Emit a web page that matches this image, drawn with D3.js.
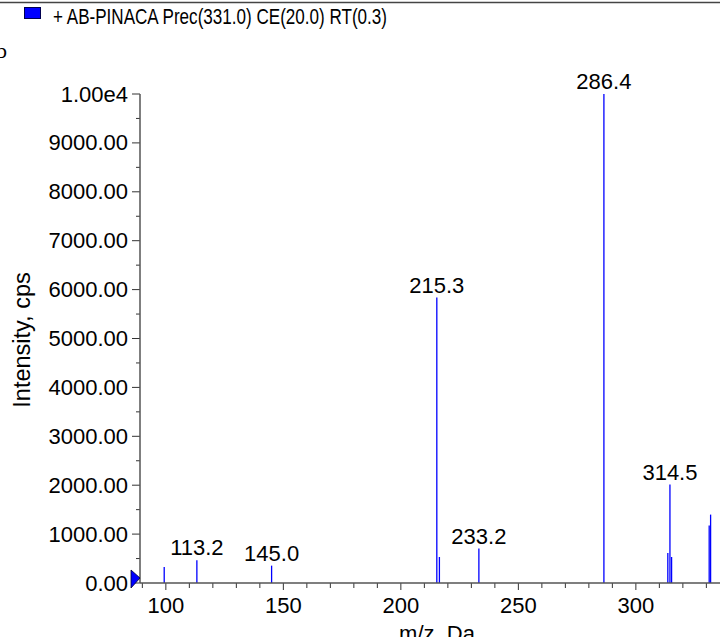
<!DOCTYPE html>
<html><head><meta charset="utf-8">
<script src="https://cdn.jsdelivr.net/npm/d3@7"></script>
<style>
html,body{margin:0;padding:0;background:#fff;}
svg{display:block;font-family:"Liberation Sans",Arial,sans-serif;}
</style></head><body>
<svg id="c" width="720" height="637"></svg>
<script>
// Data (m/z, intensity)
const mz        = [99.3, 113.2, 145.0, 215.3, 216.4, 233.2, 286.4, 313.6, 314.5, 315.2, 331.2, 331.8];
const intensity = [327,  464,   355,   5836,  532,   703,   10000, 613,   2012,  532,   1174,  1399];
const labeled   = ["", "113.2", "145.0", "215.3", "", "233.2", "286.4", "", "314.5", "", "", ""];
const yTicks = [0,1000,2000,3000,4000,5000,6000,7000,8000,9000,10000];
const yTickLabels = ["0.00","1000.00","2000.00","3000.00","4000.00","5000.00","6000.00","7000.00","8000.00","9000.00","1.00e4"];
const xTicks = [100,150,200,250,300];
const legendText = "+ AB-PINACA Prec(331.0) CE(20.0) RT(0.3)";

const svg = d3.select("#c");
const x = d3.scaleLinear().domain([89, 335.8]).range([140, 720]);
const y = d3.scaleLinear().domain([0, 10000]).range([583, 94]);
const FS = 22;

// top border
svg.append("line").attr("x1",0).attr("x2",720).attr("y1",2.5).attr("y2",2.5)
  .attr("stroke","#444").attr("stroke-width",1.5);
// legend
svg.append("rect").attr("x",24.5).attr("y",7.5).attr("width",16).attr("height",11)
  .attr("fill","#0000ff").attr("stroke","#000050").attr("stroke-width",1);
svg.append("text").attr("x",53).attr("y",23.5).attr("font-size",FS).attr("fill","#000")
  .attr("textLength",334).attr("lengthAdjust","spacingAndGlyphs").text(legendText);
// partial panel letter
svg.append("text").attr("x",-4).attr("y",58).attr("font-family","Liberation Serif").attr("font-size",22).attr("fill","#000").text("b");

// x minor ticks
const xMinor = d3.range(90, 336, 10);
svg.append("g").selectAll("line").data(xMinor).join("line")
  .attr("x1",d=>x(d)).attr("x2",d=>x(d)).attr("y1",583).attr("y2",d=>d%50===0?590:588)
  .attr("stroke","#333").attr("stroke-width",1);
svg.append("g").selectAll("text").data(xTicks).join("text")
  .attr("x",d=>x(d)).attr("y",613).attr("text-anchor","middle").attr("font-size",FS).text(d=>d);
// y minor ticks
const yMinor = d3.range(500, 10000, 1000);
svg.append("g").selectAll("line").data(yMinor).join("line")
  .attr("x1",136).attr("x2",140).attr("y1",d=>y(d)).attr("y2",d=>y(d)).attr("stroke","#333");
svg.append("g").selectAll("line").data(yTicks).join("line")
  .attr("x1",132).attr("x2",140).attr("y1",d=>y(d)).attr("y2",d=>y(d)).attr("stroke","#333");
svg.append("g").selectAll("text").data(yTicks).join("text")
  .attr("x",128).attr("y",d=>y(d)+7.5).attr("text-anchor","end").attr("font-size",FS)
  .text((d,i)=>yTickLabels[i]);

// bars
svg.append("g").selectAll("line").data(mz).join("line")
  .attr("x1",d=>x(d)).attr("x2",d=>x(d))
  .attr("y1",y(0)).attr("y2",(d,i)=>y(intensity[i]))
  .attr("stroke","#0000ff").attr("stroke-width",1.3);
// peak labels
svg.append("g").selectAll("text").data(mz).join("text")
  .attr("x",d=>x(d)).attr("y",(d,i)=>y(intensity[i])-5)
  .attr("text-anchor","middle").attr("font-size",FS).text((d,i)=>labeled[i]);

// axes lines
svg.append("line").attr("x1",140).attr("x2",140).attr("y1",94).attr("y2",583).attr("stroke","#555").attr("stroke-width",1.5);
svg.append("line").attr("x1",140).attr("x2",720).attr("y1",583).attr("y2",583).attr("stroke","#555").attr("stroke-width",1.5);

// triangle marker
svg.append("path").attr("d","M131,570 L140,578 L131,588 Z").attr("fill","#0000ff").attr("stroke","#000030").attr("stroke-width",0.8);

// axis titles
svg.append("text").attr("transform","translate(30,340) rotate(-90)").attr("text-anchor","middle").attr("font-size",23.5).text("Intensity, cps");
svg.append("text").attr("x",437).attr("y",641).attr("text-anchor","middle").attr("font-size",FS).text("m/z, Da");
</script></body></html>
